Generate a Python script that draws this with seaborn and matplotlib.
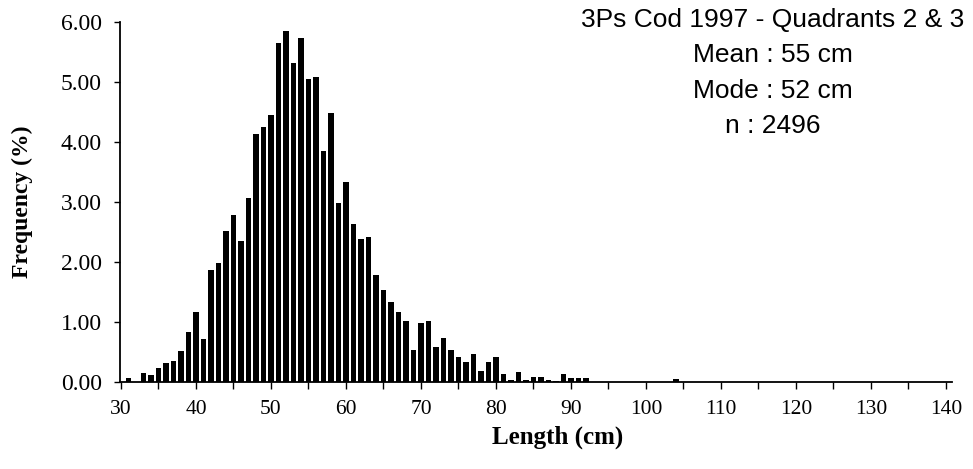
import matplotlib
matplotlib.use("Agg")
import matplotlib.pyplot as plt
from matplotlib.ticker import MultipleLocator, FormatStrFormatter, NullFormatter
import pandas as pd
import seaborn as sns

# ---- data ----
lengths = [31, 33, 34, 35, 36, 37, 38, 39, 40, 41, 42, 43, 44, 45, 46, 47, 48, 49, 50,
           51, 52, 53, 54, 55, 56, 57, 58, 59, 60, 61, 62, 63, 64, 65, 66, 67, 68, 69, 70,
           71, 72, 73, 74, 75, 76, 77, 78, 79, 80, 81, 82, 83, 84, 85, 86, 87, 88, 89, 90,
           91, 92, 104]
freq = [0.07, 0.15, 0.11, 0.24, 0.31, 0.35, 0.52, 0.84, 1.16, 0.71, 1.87, 1.98, 2.52, 2.79,
        2.35, 3.06, 4.13, 4.25, 4.45, 5.65, 5.85, 5.32, 5.73, 5.05, 5.09, 3.85, 4.49, 2.98,
        3.34, 2.63, 2.39, 2.42, 1.78, 1.54, 1.34, 1.17, 1.02, 0.54, 0.98, 1.02, 0.58, 0.73,
        0.54, 0.41, 0.33, 0.46, 0.18, 0.34, 0.41, 0.13, 0.04, 0.16, 0.04, 0.09, 0.09, 0.04,
        0.01, 0.13, 0.06, 0.06, 0.06, 0.05]
x_label = "Length (cm)"
y_label = "Frequency (%)"
info_lines = ["3Ps Cod 1997 - Quadrants 2 & 3", "Mean : 55 cm", "Mode : 52 cm", "n : 2496"]

sns.set_theme(style="white")
plt.rcParams["font.family"] = ["Liberation Serif", "DejaVu Serif"]

W, H = 973, 469
fig = plt.figure(figsize=(W / 100, H / 100), dpi=100)
ax = fig.add_axes([120 / W, 1 - 382 / H, (952 - 120) / W, 360 / H])

df = pd.DataFrame({"length": lengths, "freq": freq})
sns.barplot(data=df, x="length", y="freq", native_scale=True, color="black",
            saturation=1, width=0.76, errorbar=None, linewidth=0, ax=ax)

ax.set_xlim(29.87, 140.8)
ax.set_ylim(0, 6)

ax.xaxis.set_major_locator(MultipleLocator(10))
ax.xaxis.set_minor_locator(MultipleLocator(5))
ax.xaxis.set_minor_formatter(NullFormatter())
ax.yaxis.set_major_locator(MultipleLocator(1))
ax.yaxis.set_major_formatter(FormatStrFormatter("%.2f"))

for s in ["top", "right"]:
    ax.spines[s].set_visible(False)
for s in ["left", "bottom"]:
    ax.spines[s].set_color("black")
    ax.spines[s].set_linewidth(1.3)

ax.tick_params(axis="x", which="both", bottom=True, direction="out", length=5,
               width=1, colors="black", labelsize=15.5, pad=8)
ax.tick_params(axis="y", which="both", left=True, direction="out", length=4,
               width=1, colors="black", labelsize=17, pad=9)

ax.set_xlabel(x_label, fontsize=18, fontweight="bold", color="black")
ax.xaxis.label.set_verticalalignment("top")
ax.xaxis.set_label_coords((558 - 120) / (952 - 120), -(426 - 382) / 360)
ax.set_ylabel(y_label, fontsize=17, fontweight="bold", color="black")
ax.yaxis.set_label_coords(-(120 - 33) / (952 - 120), 0.5)

fig.text(773 / W, 1 - 8 / H, "\n".join(info_lines), ha="center", va="top",
         multialignment="center", family=["Liberation Sans", "DejaVu Sans"],
         fontsize=19, linespacing=1.6, color="black")

fig.savefig("out.png", dpi=100, facecolor="white")
